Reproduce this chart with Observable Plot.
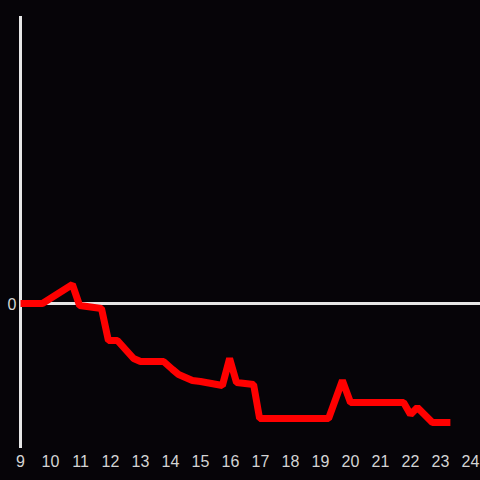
<!DOCTYPE html>
<html>
<head>
<meta charset="utf-8">
<script src="https://cdn.jsdelivr.net/npm/d3@7"></script>
<script src="https://cdn.jsdelivr.net/npm/@observablehq/plot@0.6"></script>
<style>
  html, body { margin: 0; padding: 0; background: #060408; }
</style>
</head>
<body>
<div id="chart"></div>
<script>
const hours = [9.0, 9.73, 10.73, 10.97, 11.7, 11.93, 12.23, 12.77, 13.0, 13.77, 14.07, 14.27, 14.73, 15.0, 15.73, 15.97, 16.2, 16.77, 16.97, 19.27, 19.73, 20.0, 21.77, 22.0, 22.23, 22.73, 23.33];
const values = [0, 0, 1.9, -0.2, -0.5, -3.7, -3.7, -5.5, -5.8, -5.8, -6.6, -7.1, -7.7, -7.8, -8.2, -5.5, -7.9, -8.1, -11.5, -11.5, -7.7, -9.9, -9.9, -11.1, -10.4, -11.9, -11.9];
const xTicks = [9, 10, 11, 12, 13, 14, 15, 16, 17, 18, 19, 20, 21, 22, 23, 24];
const yTicks = [0];

const data = hours.map((h, i) => ({hour: h, value: values[i]}));

const chart = Plot.plot({
  width: 480,
  height: 480,
  marginLeft: 20,
  marginRight: 10,
  marginTop: 16,
  marginBottom: 32,
  style: {background: "#060408", color: "#d0d0d0", fontFamily: "Liberation Sans, Arial, sans-serif", fontSize: "16px"},
  x: {domain: [9, 24]},
  y: {domain: [-14.5, 28.7]},
  marks: [
    Plot.axisX({ticks: xTicks, tickSize: 0, tickPadding: 7, label: null, fontSize: 16, fill: "#d4d4d4"}),
    Plot.axisY({ticks: yTicks, tickSize: 0, tickPadding: 4, label: null, fontSize: 16, fill: "#d4d4d4", dy: 1}),
    Plot.ruleY([0], {x1: 9, x2: 24.34, stroke: "#e6e6e6", strokeWidth: 3}),
    Plot.ruleX([9], {y1: -14.5, y2: 28.7, stroke: "#e6e6e6", strokeWidth: 3}),
    Plot.line(data, {x: "hour", y: "value", stroke: "#ff0000", strokeWidth: 7, strokeLinejoin: "miter", strokeLinecap: "butt"})
  ]
});
document.getElementById("chart").appendChild(chart);
</script>
</body>
</html>
